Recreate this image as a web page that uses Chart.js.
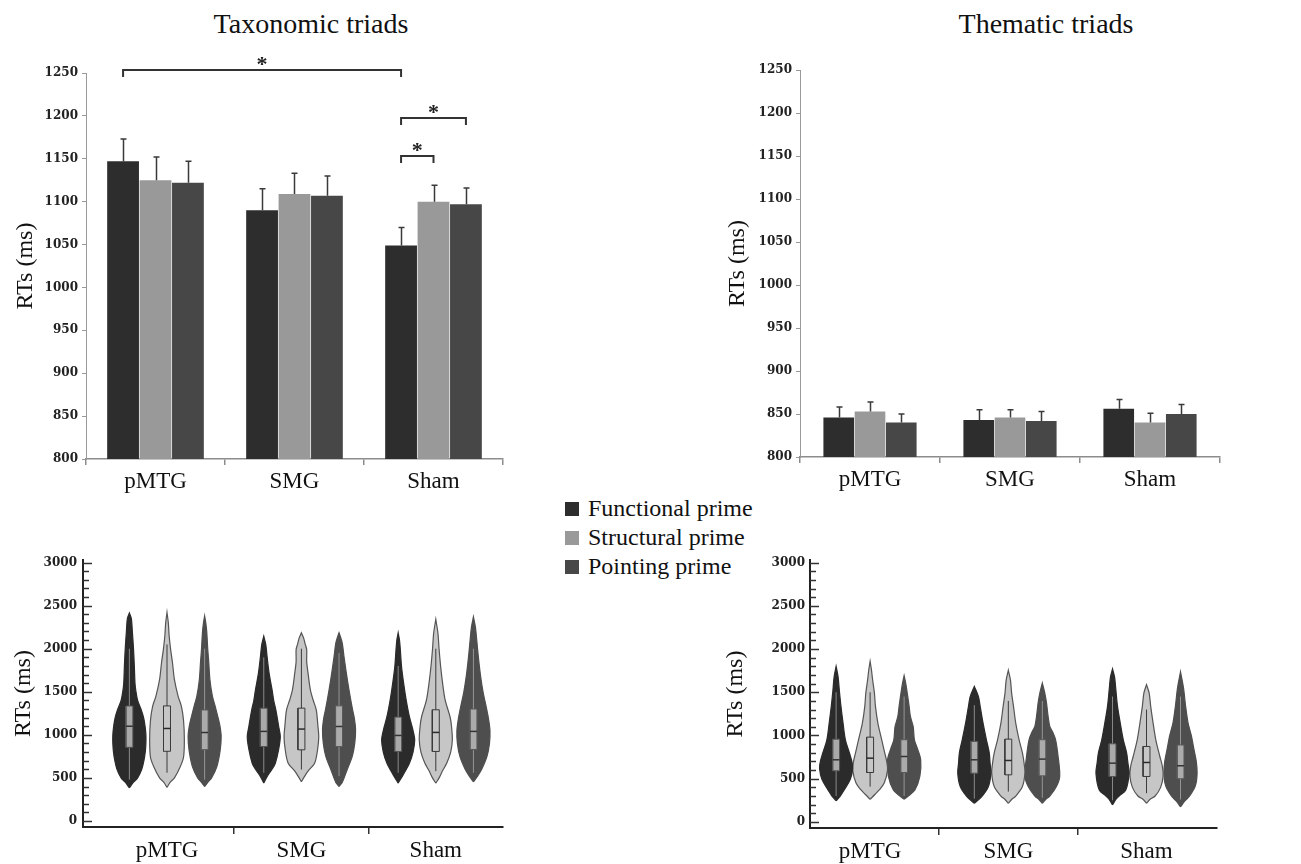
<!DOCTYPE html>
<html>
<head>
<meta charset="utf-8">
<script src="https://cdn.jsdelivr.net/npm/chart.js@4.4.1/dist/chart.umd.min.js"></script>
<style>
  html, body { margin: 0; padding: 0; background: #ffffff; }
  body { width: 1301px; height: 864px; position: relative; overflow: hidden;
         font-family: "Liberation Serif", "Times New Roman", serif; color: #111; }
  .panel { position: absolute; }
  .ptitle { position: absolute; font-size: 28px; line-height: 28px; white-space: nowrap; transform: translateX(-50%); }
  .lg-row { position: absolute; left: 565px; height: 29px; font-size: 24px; line-height: 29px; white-space: nowrap; }
  .lg-sw { position: absolute; left: 0; top: 8px; width: 14px; height: 14px; }
  .lg-tx { position: absolute; left: 23px; top: 0; }
</style>
</head>
<body>
<div class="ptitle" style="left:311px; top:10px;">Taxonomic triads</div>
<div class="ptitle" style="left:1046px; top:10px;">Thematic triads</div>
<div id="legend"></div>

<div class="panel" style="left:0px; top:0px; width:540px; height:500px;"><canvas id="taxBar"></canvas></div>
<div class="panel" style="left:700px; top:0px; width:560px; height:500px;"><canvas id="thmBar"></canvas></div>
<div class="panel" style="left:0px; top:540px; width:540px; height:324px;"><canvas id="taxViolin"></canvas></div>
<div class="panel" style="left:700px; top:540px; width:560px; height:324px;"><canvas id="thmViolin"></canvas></div>

<script>
// ---------------- DATA ----------------
const groups = ['pMTG', 'SMG', 'Sham'];
const seriesNames = ['Functional prime', 'Structural prime', 'Pointing prime'];
const barTicks = [800, 850, 900, 950, 1000, 1050, 1100, 1150, 1200, 1250];
const violinTicks = [0, 500, 1000, 1500, 2000, 2500, 3000];

// Mean RTs (ms) per site: pMTG, SMG, Sham
const taxFunctional = [1147, 1090, 1049];
const taxStructural = [1125, 1109, 1100];
const taxPointing   = [1122, 1107, 1097];
const taxFunctionalSE = [26, 25, 21];
const taxStructuralSE = [27, 24, 19];
const taxPointingSE   = [25, 23, 19];

const thmFunctional = [846, 843, 856];
const thmStructural = [853, 846, 840];
const thmPointing   = [840, 842, 850];
const thmFunctionalSE = [12, 12, 11];
const thmStructuralSE = [11, 9, 11];
const thmPointingSE   = [10, 11, 11];

// significance brackets (taxonomic): [site, series] endpoints, level in ms
const sigFrom  = [[0, 0], [2, 0], [2, 0]];
const sigTo    = [[2, 0], [2, 2], [2, 1]];
const sigLevel = [1254, 1197, 1153];
const sigMark  = ['*', '*', '*'];

// Violin profiles: [RT ms, relative density width] per site (pMTG, SMG, Sham)
const taxViolinFunctional = [
  [[385,0],[450,.25],[500,.5],[600,.75],[700,.88],[800,.96],[900,1],[1000,1],[1100,.95],[1200,.86],[1300,.7],[1400,.5],[1500,.4],[1600,.34],[1800,.3],[2000,.25],[2200,.18],[2350,.12],[2415,0]],
  [[440,0],[515,.2],[600,.5],[670,.7],[830,.9],[980,1],[1100,.9],[1290,.73],[1400,.6],[1525,.5],[1720,.32],[1910,.2],[2050,.12],[2145,0]],
  [[440,0],[535,.3],[670,.68],[800,.9],[940,1],[1050,.9],[1210,.68],[1410,.48],[1600,.33],[1800,.2],[1990,.13],[2100,.08],[2185,0]]
];
const taxViolinStructural = [
  [[390,0],[450,.2],[500,.45],[620,.78],[740,1],[940,1.05],[1170,1],[1330,.87],[1450,.67],[1640,.45],[1840,.33],[1990,.22],[2150,.13],[2300,.08],[2420,0]],
  [[455,0],[520,.2],[580,.4],[670,.8],[830,.98],[980,1.05],[1100,1],[1290,.9],[1410,.7],[1525,.54],[1720,.4],[1850,.32],[1990,.32],[2060,.22],[2120,.14],[2185,0]],
  [[440,0],[500,.2],[580,.4],[670,.66],[800,.9],[940,1],[1100,.95],[1210,.86],[1410,.56],[1600,.41],[1800,.29],[1990,.2],[2180,.13],[2340,0]]
];
const taxViolinPointing = [
  [[400,0],[450,.2],[500,.42],[625,.73],[820,.94],[980,1],[1100,.93],[1170,.85],[1330,.64],[1450,.47],[1640,.32],[1840,.25],[1990,.19],[2190,.13],[2300,.07],[2380,0]],
  [[400,0],[450,.2],[600,.5],[750,.8],[900,.95],[1060,1],[1200,.92],[1290,.82],[1525,.6],[1720,.44],[1910,.3],[2060,.2],[2130,.1],[2185,0]],
  [[455,0],[520,.25],[600,.5],[750,.82],[900,.97],[1050,1],[1200,.9],[1300,.8],[1500,.58],[1700,.42],[1900,.3],[2100,.2],[2250,.12],[2370,0]]
];
// box: [Q1, median, Q3]; whisker: [low, high]
const taxBoxFunctional = [[855,1100,1335],[864,1040,1310],[807,993,1206]];
const taxBoxStructural = [[809,1074,1336],[826,1067,1310],[807,1028,1291]];
const taxBoxPointing   = [[828,1027,1289],[864,1097,1337],[830,1040,1300]];
const taxWhiskerFunctional = [[480,2000],[560,1900],[560,1800]];
const taxWhiskerStructural = [[560,2050],[597,2000],[578,2000]];
const taxWhiskerPointing   = [[480,2000],[520,1950],[560,2000]];

const thmViolinFunctional = [
  [[245,0],[300,.25],[350,.42],[490,.85],[620,1],[700,.95],[800,.8],[950,.56],[1140,.42],[1340,.29],[1530,.19],[1680,.12],[1800,0]],
  [[216,0],[294,.45],[410,.85],[565,1],[680,.95],[800,.9],[950,.73],[1140,.53],[1340,.35],[1450,.25],[1568,0]],
  [[197,0],[260,.2],[300,.4],[370,.8],[565,1],[680,.93],[800,.85],[950,.65],[1140,.47],[1340,.3],[1530,.2],[1680,.12],[1770,0]]
];
const thmViolinStructural = [
  [[262,0],[320,.3],[370,.55],[450,.85],[600,1.05],[700,1],[800,.88],[950,.7],[1140,.47],[1340,.32],[1490,.26],[1645,.15],[1760,.08],[1858,0]],
  [[216,0],[260,.2],[300,.45],[410,.85],[565,1],[680,.95],[800,.85],[950,.65],[1140,.45],[1340,.31],[1490,.2],[1640,.13],[1754,0]],
  [[216,0],[260,.2],[300,.52],[400,.85],[530,1],[650,.95],[760,.8],[950,.56],[1140,.4],[1340,.25],[1490,.16],[1588,0]]
];
const thmViolinPointing = [
  [[262,0],[300,.25],[370,.65],[530,.95],[720,1],[850,.8],[950,.62],[1100,.55],[1220,.38],[1340,.3],[1490,.19],[1600,.1],[1692,0]],
  [[216,0],[260,.2],[300,.45],[410,.85],[530,1.05],[760,.95],[950,.8],[1050,.6],[1105,.45],[1220,.35],[1380,.25],[1490,.15],[1607,0]],
  [[174,0],[240,.25],[300,.55],[420,.9],[560,1],[700,.95],[850,.8],[1000,.65],[1150,.45],[1350,.3],[1550,.18],[1737,0]]
];
const thmBoxFunctional = [[591,719,958],[564,719,932],[526,680,904]];
const thmBoxStructural = [[572,738,981],[545,711,958],[526,688,873]];
const thmBoxPointing   = [[572,757,951],[533,727,951],[500,650,890]];
const thmWhiskerFunctional = [[300,1500],[270,1350],[250,1450]];
const thmWhiskerStructural = [[409,1500],[351,1400],[332,1300]];
const thmWhiskerPointing   = [[300,1450],[280,1400],[260,1450]];

// ---------------- STYLE ----------------
const SERIF = '"Liberation Serif", "Times New Roman", serif';
const TICKFONT = '"DejaVu Serif", serif';
const BAR_COLORS = ['#2d2d2d', '#999999', '#474747'];
const VIOLIN_STYLES = [
  { fill: '#2b2b2b', stroke: '#2b2b2b', boxFill: '#a9a9a9', boxStroke: '#555', median: '#333', whisker: '#8a8a8a' },
  { fill: '#c6c6c6', stroke: '#555555', boxFill: '#c6c6c6', boxStroke: '#3a3a3a', median: '#2a2a2a', whisker: '#3a3a3a' },
  { fill: '#4e4e4e', stroke: '#4e4e4e', boxFill: '#ababab', boxStroke: '#5a5a5a', median: '#333', whisker: '#959595' }
];
const plainNumber = v => String(v);

// legend (HTML text)
(function () {
  const lg = document.getElementById('legend');
  const tops = [494, 523, 552];
  seriesNames.forEach((n, i) => {
    const row = document.createElement('div');
    row.className = 'lg-row';
    row.style.top = tops[i] + 'px';
    row.innerHTML = '<span class="lg-sw" style="background:' + BAR_COLORS[i] + '"></span><span class="lg-tx">' + n + '</span>';
    lg.appendChild(row);
  });
})();

// ---------------- PLUGINS ----------------
const errorBarsPlugin = {
  id: 'errorBars',
  afterDatasetsDraw(chart, args, opts) {
    if (!opts || !opts.errors) return;
    const ctx = chart.ctx, y = chart.scales.y;
    ctx.save();
    ctx.strokeStyle = '#3a3a3a';
    ctx.lineWidth = 1.5;
    chart.data.datasets.forEach((ds, i) => {
      const meta = chart.getDatasetMeta(i);
      meta.data.forEach((bar, j) => {
        const v = ds.data[j], e = opts.errors[i][j];
        const x = Math.round(bar.x) + 0.5;
        const y0 = y.getPixelForValue(v), y1 = y.getPixelForValue(v + e);
        ctx.beginPath();
        ctx.moveTo(x, y0); ctx.lineTo(x, y1);
        ctx.moveTo(x - 3, y1); ctx.lineTo(x + 3, y1);
        ctx.stroke();
      });
    });
    ctx.restore();
  }
};

const sigBracketsPlugin = {
  id: 'sigBrackets',
  afterDatasetsDraw(chart, args, opts) {
    if (!opts || !opts.from) return;
    const ctx = chart.ctx, y = chart.scales.y;
    ctx.save();
    ctx.strokeStyle = '#333';
    ctx.fillStyle = '#222';
    ctx.lineWidth = 2;
    ctx.font = 'bold 22px ' + SERIF;
    ctx.textAlign = 'center';
    ctx.textBaseline = 'alphabetic';
    opts.from.forEach((f, k) => {
      const t = opts.to[k];
      const x1 = chart.getDatasetMeta(f[1]).data[f[0]].x;
      const x2 = chart.getDatasetMeta(t[1]).data[t[0]].x;
      const yy = Math.round(y.getPixelForValue(opts.level[k]));
      ctx.beginPath();
      ctx.moveTo(x1, yy + 7); ctx.lineTo(x1, yy); ctx.lineTo(x2, yy); ctx.lineTo(x2, yy + 7);
      ctx.stroke();
      ctx.fillText(opts.mark[k], (x1 + x2) / 2, yy + 1);
    });
    ctx.restore();
  }
};

const innerTicksPlugin = {
  id: 'innerTicks',
  afterDraw(chart, args, opts) {
    if (!opts || !opts.step) return;
    const ctx = chart.ctx, y = chart.scales.y, x0 = chart.chartArea.left;
    ctx.save();
    ctx.strokeStyle = '#333';
    ctx.lineWidth = 1.5;
    for (let v = opts.from; v <= opts.to; v += opts.step) {
      const len = (v % opts.major === 0) ? 9 : 6;
      const py = Math.round(y.getPixelForValue(v)) + 0.5;
      ctx.beginPath();
      ctx.moveTo(x0, py); ctx.lineTo(x0 + len, py);
      ctx.stroke();
    }
    ctx.restore();
  }
};

Chart.register(errorBarsPlugin, sigBracketsPlugin, innerTicksPlugin);

// ---------------- BAR CHARTS ----------------
function makeBarChart(id, means, ses, geom, brackets) {
  return new Chart(document.getElementById(id), {
    type: 'bar',
    data: {
      labels: groups,
      datasets: means.map((d, i) => ({
        label: seriesNames[i], data: d, backgroundColor: BAR_COLORS[i],
        borderWidth: 0, barPercentage: 0.98, categoryPercentage: geom.catPct
      }))
    },
    options: {
      responsive: true, maintainAspectRatio: false, animation: false, devicePixelRatio: 1, events: [],
      layout: { padding: { top: geom.top, right: geom.right, left: 0, bottom: 0 } },
      plugins: {
        legend: { display: false }, tooltip: { enabled: false },
        errorBars: { errors: ses },
        sigBrackets: brackets || {}
      },
      scales: {
        x: {
          grid: { offset: true, drawOnChartArea: false, tickLength: 6, color: '#8c8c8c', lineWidth: 1.5 },
          border: { color: '#8c8c8c', width: 1.5 },
          ticks: { font: { family: SERIF, size: 23 }, color: '#111', padding: 3, maxRotation: 0 },
          afterFit: s => { s.height = geom.xh; }
        },
        y: {
          min: 800, max: 1250,
          afterBuildTicks: s => { s.ticks = barTicks.map(v => ({ value: v })); },
          grid: { drawOnChartArea: false, tickLength: 4, color: '#999' },
          border: { color: '#999', width: 1 },
          ticks: { font: { family: TICKFONT, size: 12, weight: 'bold' }, color: '#222', padding: geom.tickPad,
                   callback: plainNumber },
          title: { display: true, text: 'RTs (ms)', font: { family: SERIF, size: 24 }, color: '#111',
                   padding: { top: geom.titlePad, bottom: 0 } },
          afterFit: s => { s.width = geom.yw; }
        }
      }
    }
  });
}

makeBarChart('taxBar',
  [taxFunctional, taxStructural, taxPointing],
  [taxFunctionalSE, taxStructuralSE, taxPointingSE],
  { top: 73, right: 37, xh: 41, yw: 86, catPct: 0.7, tickPad: 4, titlePad: 11 },
  { from: sigFrom, to: sigTo, level: sigLevel, mark: sigMark });

makeBarChart('thmBar',
  [thmFunctional, thmStructural, thmPointing],
  [thmFunctionalSE, thmStructuralSE, thmPointingSE],
  { top: 70, right: 40, xh: 43, yw: 100, catPct: 0.67, tickPad: 4, titlePad: 23 });

// ---------------- VIOLIN CHARTS ----------------
function violinDatasets(profiles, boxes, whiskers, offset, halfW, boxHalf) {
  const out = [];
  profiles.forEach((siteProfiles, s) => {
    const st = VIOLIN_STYLES[s];
    siteProfiles.forEach((prof, g) => {
      const cx = g + (s - 1) * offset;
      const right = prof.map(([v, w]) => ({ x: cx + w * halfW, y: v }));
      const left = prof.slice().reverse().map(([v, w]) => ({ x: cx - w * halfW, y: v }));
      out.push({ label: seriesNames[s] + ' ' + groups[g], data: right.concat(left),
        fill: 'shape', backgroundColor: st.fill, borderColor: st.stroke, borderWidth: 1.2,
        pointRadius: 0, tension: 0.3, order: 4 });
      const wk = whiskers[s][g];
      out.push({ data: [{ x: cx, y: wk[0] }, { x: cx, y: wk[1] }], fill: false,
        borderColor: st.whisker, borderWidth: 1, pointRadius: 0, tension: 0, order: 3 });
      const b = boxes[s][g];
      out.push({ data: [{ x: cx - boxHalf, y: b[0] }, { x: cx + boxHalf, y: b[0] }, { x: cx + boxHalf, y: b[2] },
                        { x: cx - boxHalf, y: b[2] }, { x: cx - boxHalf, y: b[0] }],
        fill: 'shape', backgroundColor: st.boxFill, borderColor: st.boxStroke, borderWidth: 1,
        pointRadius: 0, tension: 0, order: 2 });
      out.push({ data: [{ x: cx - boxHalf, y: b[1] }, { x: cx + boxHalf, y: b[1] }], fill: false,
        borderColor: st.median, borderWidth: 1.5, pointRadius: 0, tension: 0, order: 1 });
    });
  });
  return out;
}

function makeViolinChart(id, datasets, geom) {
  return new Chart(document.getElementById(id), {
    type: 'line',
    data: { datasets },
    options: {
      responsive: true, maintainAspectRatio: false, animation: false, devicePixelRatio: 1, events: [],
      layout: { padding: { top: geom.top, right: geom.right, left: 0, bottom: 0 } },
      plugins: { legend: { display: false }, tooltip: { enabled: false },
                 innerTicks: { from: 0, to: 3000, step: 100, major: 500 } },
      scales: {
        x: {
          type: 'linear', min: geom.xmin, max: geom.xmax,
          afterBuildTicks: s => { s.ticks = [0, 0.5, 1, 1.5, 2].map(v => ({ value: v })); },
          grid: { drawOnChartArea: false, tickLength: 7, lineWidth: 1.5,
                  tickColor: c => (c.tick && Number.isInteger(c.tick.value)) ? 'rgba(0,0,0,0)' : '#333' },
          border: { color: '#222', width: 2 },
          ticks: { autoSkip: false, maxRotation: 0, font: { family: SERIF, size: 23 }, color: '#111', padding: 3,
                   callback: v => Number.isInteger(v) ? groups[v] : '' },
          afterFit: s => { s.height = geom.xh; }
        },
        y: {
          min: -70, max: 3030,
          afterBuildTicks: s => { s.ticks = violinTicks.map(v => ({ value: v })); },
          grid: { drawOnChartArea: false, drawTicks: false },
          border: { color: '#222', width: 2 },
          ticks: { font: { family: TICKFONT, size: 12, weight: 'bold' }, color: '#222', padding: geom.tickPad,
                   callback: plainNumber },
          title: { display: true, text: 'RTs (ms)', font: { family: SERIF, size: 24 }, color: '#111',
                   padding: { top: geom.titlePad, bottom: 0 } },
          afterFit: s => { s.width = geom.yw; }
        }
      }
    }
  });
}

makeViolinChart('taxViolin',
  violinDatasets([taxViolinFunctional, taxViolinStructural, taxViolinPointing],
                 [taxBoxFunctional, taxBoxStructural, taxBoxPointing],
                 [taxWhiskerFunctional, taxWhiskerStructural, taxWhiskerPointing], 0.28, 0.123, 0.026),
  { top: 20, right: 37, xh: 37, yw: 83, xmin: -0.625, xmax: 2.5, tickPad: 6, titlePad: 9 });

makeViolinChart('thmViolin',
  violinDatasets([thmViolinFunctional, thmViolinStructural, thmViolinPointing],
                 [thmBoxFunctional, thmBoxStructural, thmBoxPointing],
                 [thmWhiskerFunctional, thmWhiskerStructural, thmWhiskerPointing], 0.246, 0.12, 0.025),
  { top: 20, right: 43, xh: 36, yw: 110, xmin: -0.435, xmax: 2.51, tickPad: 5, titlePad: 21 });
</script>
</body>
</html>
